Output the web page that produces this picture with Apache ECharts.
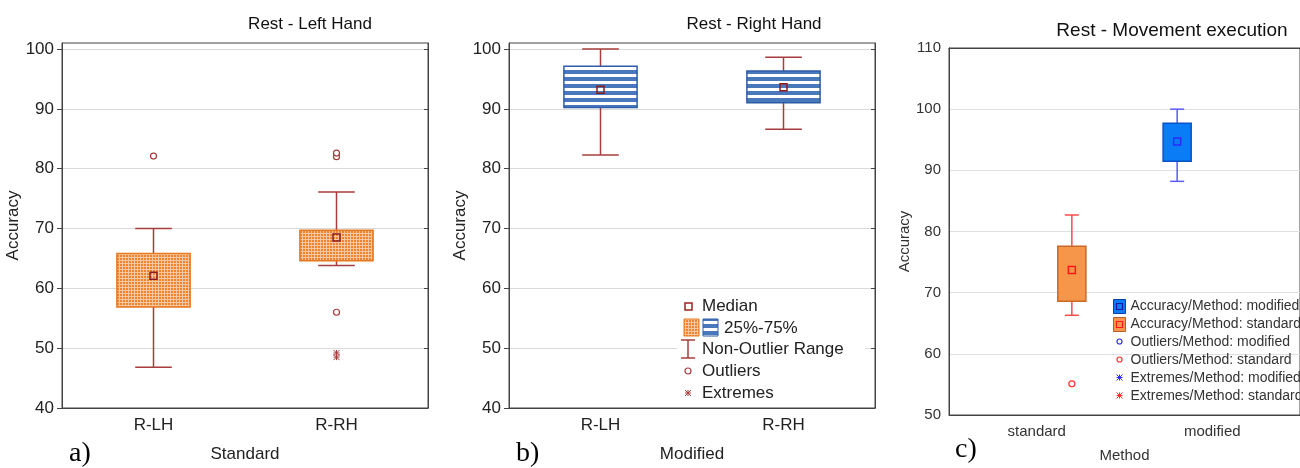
<!DOCTYPE html>
<html>
<head>
<meta charset="utf-8">
<script src="https://cdn.jsdelivr.net/npm/echarts@6/dist/echarts.min.js"></script>
<style>
html, body { margin: 0; padding: 0; background: #fff; }
#chart { width: 1300px; height: 468px; }
</style>
</head>
<body>
<div id="chart"></div>
<script>
// categories and ticks
var handCats = ['R-LH', 'R-RH'];
var methodCats = ['standard', 'modified'];
var handTicks = [40, 50, 60, 70, 80, 90, 100];
var methodTicks = [50, 60, 70, 80, 90, 100, 110];

// boxes: [category index, low whisker, q1, median, q3, high whisker]
var leftBoxes = [[0, 46.8, 56.9, 62.1, 65.8, 70.0], [1, 63.8, 64.6, 68.5, 69.7, 76.1]];
var leftOutliers = [[0, 82.1], [1, 82.0], [1, 82.6], [1, 56.0]];
var leftExtremes = [[1, 48.5], [1, 49.2]];

var rightBoxes = [[0, 82.3, 90.2, 93.2, 97.1, 100.0], [1, 86.6, 91.0, 93.6, 96.3, 98.6]];

var standardBox = [[0, 66.3, 68.6, 73.7, 77.6, 82.7]];
var modifiedBox = [[1, 88.2, 91.5, 94.7, 97.7, 100.0]];
var standardOutliers = [[0, 55.1]];

var sans = '"Liberation Sans", Arial, sans-serif';
var narrow = '"Liberation Sans Narrow", "Liberation Sans", Arial, sans-serif';
var serif = '"Liberation Serif", "Times New Roman", serif';

function gridPattern() {
  var c = document.createElement('canvas');
  c.width = 3; c.height = 3;
  var g = c.getContext('2d');
  g.fillStyle = '#ef8430';
  g.fillRect(0, 0, 3, 3);
  g.fillStyle = 'rgba(255,255,255,0.55)';
  g.fillRect(2, 0, 1, 3);
  g.fillRect(0, 2, 2, 1);
  return c;
}
function stripePattern() {
  var c = document.createElement('canvas');
  c.width = 4; c.height = 7;
  var g = c.getContext('2d');
  g.fillStyle = '#ffffff';
  g.fillRect(0, 0, 4, 7);
  g.fillStyle = '#4a78bd';
  g.fillRect(0, 0, 4, 4);
  return c;
}
var orangeFill = { image: gridPattern(), repeat: 'repeat' };
var blueFill = { image: stripePattern(), repeat: 'repeat' };

// box + whisker drawn from the axis scales
function boxRender(o) {
  return function (params, api) {
    var band = api.size([1, 0])[0];
    var c = api.value(0);
    var lo = api.coord([c, api.value(1)]);
    var q1 = api.coord([c, api.value(2)]);
    var md = api.coord([c, api.value(3)]);
    var q3 = api.coord([c, api.value(4)]);
    var hi = api.coord([c, api.value(5)]);
    var x = md[0] + band * o.offset;
    var bw = band * o.box, cw = band * o.cap, s = o.med;
    var wl = { stroke: o.whisker, lineWidth: 1.5 };
    return {
      type: 'group',
      children: [
        { type: 'line', shape: { x1: x, y1: hi[1], x2: x, y2: lo[1] }, style: wl },
        { type: 'line', shape: { x1: x - cw / 2, y1: hi[1], x2: x + cw / 2, y2: hi[1] }, style: wl },
        { type: 'line', shape: { x1: x - cw / 2, y1: lo[1], x2: x + cw / 2, y2: lo[1] }, style: wl },
        { type: 'rect', shape: { x: x - bw / 2, y: q3[1], width: bw, height: q1[1] - q3[1] },
          style: { fill: o.fill, stroke: o.border, lineWidth: 1.5 } },
        { type: 'rect', shape: { x: x - s / 2, y: md[1] - s / 2, width: s, height: s },
          style: { fill: 'none', stroke: o.medColor, lineWidth: 1.5 } }
      ]
    };
  };
}

function circleRender(o) {
  return function (params, api) {
    var band = api.size([1, 0])[0];
    var p = api.coord([api.value(0), api.value(1)]);
    return { type: 'circle', shape: { cx: p[0] + band * o.offset, cy: p[1], r: 3 },
      style: { fill: '#fff', stroke: o.color, lineWidth: 1.2 } };
  };
}

function starRender(o) {
  return function (params, api) {
    var band = api.size([1, 0])[0];
    var p = api.coord([api.value(0), api.value(1)]);
    return starIcon(p[0] + band * o.offset, p[1], o.color);
  };
}

function starIcon(cx, cy, color) {
  var r = 3, st = { stroke: color, lineWidth: 1 };
  return { type: 'group', children: [
    { type: 'line', shape: { x1: cx - r, y1: cy, x2: cx + r, y2: cy }, style: st },
    { type: 'line', shape: { x1: cx, y1: cy - r, x2: cx, y2: cy + r }, style: st },
    { type: 'line', shape: { x1: cx - r, y1: cy - r, x2: cx + r, y2: cy + r }, style: st },
    { type: 'line', shape: { x1: cx + r, y1: cy - r, x2: cx - r, y2: cy + r }, style: st }
  ] };
}

// lift legend pieces above the grid lines
function lift(list) {
  list.forEach(function (el) {
    el.z = 100;
    if (el.children) lift(el.children);
  });
  return list;
}

var dark = '#a83c3c';
var boxEnc = { x: 0, y: [1, 2, 3, 4, 5] };
var ptEnc = { x: 0, y: 1 };

var handY = function (gi) {
  return {
    type: 'value', gridIndex: gi, min: 40, max: 101, interval: 10,
    name: 'Accuracy', nameLocation: 'middle', nameGap: gi === 0 ? 36 : 32,
    nameTextStyle: { fontFamily: sans, fontSize: 17, color: '#222' },
    axisLine: { show: true, lineStyle: { color: '#444' } },
    axisTick: { show: true, length: 5, lineStyle: { color: '#444' }, customValues: handTicks },
    axisLabel: { fontFamily: sans, fontSize: 17, color: '#222', margin: 8, customValues: handTicks },
    splitLine: { lineStyle: { color: '#dadada' } }
  };
};
var handYRight = function (gi) {
  return {
    type: 'value', gridIndex: gi, position: 'right', min: 40, max: 101, interval: 10,
    axisLine: { show: true, lineStyle: { color: '#444' } },
    axisTick: { show: true, inside: true, length: 4, lineStyle: { color: '#444' }, customValues: handTicks },
    axisLabel: { show: false }, splitLine: { show: false }
  };
};
var handX = function (gi, name) {
  return {
    type: 'category', gridIndex: gi, data: handCats,
    name: name, nameLocation: 'middle', nameGap: 38,
    nameTextStyle: { fontFamily: sans, fontSize: 17, color: '#222' },
    axisLine: { lineStyle: { color: '#444' } },
    axisTick: { alignWithLabel: true, length: 5, lineStyle: { color: '#444' } },
    axisLabel: { fontFamily: sans, fontSize: 17, color: '#222', margin: 9 }
  };
};

var legendB = lift([
  { type: 'rect', shape: { x: 0, y: 0, width: 188, height: 108 }, style: { fill: '#fff' } },
  { type: 'rect', shape: { x: 8, y: 7, width: 7, height: 7 }, style: { fill: 'none', stroke: '#a02020', lineWidth: 1.5 } },
  { type: 'rect', shape: { x: 7, y: 23, width: 15, height: 17 }, style: { fill: orangeFill, stroke: '#e8781e', lineWidth: 1 } },
  { type: 'rect', shape: { x: 26, y: 23, width: 15, height: 17 }, style: { fill: blueFill, stroke: '#2e5ca6', lineWidth: 1 } },
  { type: 'line', shape: { x1: 11, y1: 44, x2: 11, y2: 62 }, style: { stroke: dark, lineWidth: 1.5 } },
  { type: 'line', shape: { x1: 4, y1: 44, x2: 18, y2: 44 }, style: { stroke: dark, lineWidth: 1.5 } },
  { type: 'line', shape: { x1: 4, y1: 62, x2: 18, y2: 62 }, style: { stroke: dark, lineWidth: 1.5 } },
  { type: 'circle', shape: { cx: 11, cy: 75, r: 3 }, style: { fill: '#fff', stroke: dark, lineWidth: 1.2 } },
  starIcon(11, 97, dark),
  { type: 'text', x: 25, y: 10, style: { text: 'Median', font: '17px ' + sans, fill: '#222', verticalAlign: 'middle' } },
  { type: 'text', x: 47, y: 32, style: { text: '25%-75%', font: '17px ' + sans, fill: '#222', verticalAlign: 'middle' } },
  { type: 'text', x: 25, y: 53, style: { text: 'Non-Outlier Range', font: '17px ' + sans, fill: '#222', verticalAlign: 'middle' } },
  { type: 'text', x: 25, y: 75, style: { text: 'Outliers', font: '17px ' + sans, fill: '#222', verticalAlign: 'middle' } },
  { type: 'text', x: 25, y: 97, style: { text: 'Extremes', font: '17px ' + sans, fill: '#222', verticalAlign: 'middle' } }
]);

var legendC = lift([
  { type: 'rect', shape: { x: 2, y: 1, width: 12, height: 14 }, style: { fill: '#0a7cf5', stroke: '#0a3ea8', lineWidth: 1 } },
  { type: 'rect', shape: { x: 5, y: 5, width: 6, height: 6 }, style: { fill: 'none', stroke: '#1a1aa0', lineWidth: 1.2 } },
  { type: 'rect', shape: { x: 2, y: 19, width: 12, height: 14 }, style: { fill: '#f5964a', stroke: '#b0602a', lineWidth: 1 } },
  { type: 'rect', shape: { x: 5, y: 23, width: 6, height: 6 }, style: { fill: 'none', stroke: '#ff1a1a', lineWidth: 1.2 } },
  { type: 'circle', shape: { cx: 8, cy: 43, r: 2.5 }, style: { fill: '#fff', stroke: '#3030ff', lineWidth: 1.2 } },
  { type: 'circle', shape: { cx: 8, cy: 61, r: 2.5 }, style: { fill: '#fff', stroke: '#ff3030', lineWidth: 1.2 } },
  starIcon(8, 79, '#3030ff'),
  starIcon(8, 97, '#ff3030'),
  { type: 'text', x: 19, y: 8, style: { text: 'Accuracy/Method: modified', font: '14px ' + sans, fill: '#333', verticalAlign: 'middle' } },
  { type: 'text', x: 19, y: 26, style: { text: 'Accuracy/Method: standard', font: '14px ' + sans, fill: '#333', verticalAlign: 'middle' } },
  { type: 'text', x: 19, y: 44, style: { text: 'Outliers/Method: modified', font: '14px ' + sans, fill: '#333', verticalAlign: 'middle' } },
  { type: 'text', x: 19, y: 62, style: { text: 'Outliers/Method: standard', font: '14px ' + sans, fill: '#333', verticalAlign: 'middle' } },
  { type: 'text', x: 19, y: 80, style: { text: 'Extremes/Method: modified', font: '14px ' + sans, fill: '#333', verticalAlign: 'middle' } },
  { type: 'text', x: 19, y: 98, style: { text: 'Extremes/Method: standard', font: '14px ' + sans, fill: '#333', verticalAlign: 'middle' } }
]);

var option = {
  animation: false,
  backgroundColor: '#fff',
  title: [
    { text: 'Rest - Left Hand', left: 305, top: 11, textAlign: 'center',
      textStyle: { fontFamily: sans, fontSize: 17, fontWeight: 'normal', color: '#111' } },
    { text: 'Rest - Right Hand', left: 749, top: 11, textAlign: 'center',
      textStyle: { fontFamily: sans, fontSize: 17, fontWeight: 'normal', color: '#111' } },
    { text: 'Rest - Movement execution', left: 1167, top: 16, textAlign: 'center',
      textStyle: { fontFamily: sans, fontSize: 19, fontWeight: 'normal', color: '#111' } }
  ],
  grid: [
    { left: 62, top: 43, width: 366, height: 370, show: true, borderColor: '#444', borderWidth: 1 },
    { left: 509, top: 43, width: 366, height: 370, show: true, borderColor: '#444', borderWidth: 1 },
    { left: 949, top: 48, width: 360, height: 367, show: true, borderColor: '#444', borderWidth: 1 }
  ],
  xAxis: [
    handX(0, 'Standard'),
    handX(1, 'Modified'),
    {
      type: 'category', gridIndex: 2, data: methodCats,
      name: 'Method', nameLocation: 'middle', nameGap: 33,
      nameTextStyle: { fontFamily: narrow, fontSize: 15, color: '#333' },
      axisLine: { lineStyle: { color: '#444' } },
      axisTick: { alignWithLabel: true, length: 4, lineStyle: { color: '#444' } },
      axisLabel: { fontFamily: narrow, fontSize: 15, color: '#333', margin: 9 }
    },
    {
      type: 'category', gridIndex: 2, data: methodCats, position: 'top',
      axisLine: { lineStyle: { color: '#444' } },
      axisTick: { alignWithLabel: true, inside: true, length: 4, lineStyle: { color: '#444' } },
      axisLabel: { show: false }
    }
  ],
  yAxis: [
    handY(0),
    handY(1),
    {
      type: 'value', gridIndex: 2, min: 50, max: 110, interval: 10,
      name: 'Accuracy', nameLocation: 'middle', nameGap: 37,
      nameTextStyle: { fontFamily: narrow, fontSize: 15, color: '#333', padding: [0, 20, 0, 0] },
      axisLine: { show: true, lineStyle: { color: '#444' } },
      axisTick: { show: false },
      axisLabel: { fontFamily: narrow, fontSize: 15, color: '#333', margin: 8, customValues: methodTicks },
      splitLine: { lineStyle: { color: '#e0e0e0' } }
    },
    handYRight(0),
    handYRight(1)
  ],
  series: [
    { type: 'custom', name: 'Standard', xAxisIndex: 0, yAxisIndex: 0, data: leftBoxes, encode: boxEnc,
      renderItem: boxRender({ offset: 0, box: 0.4, cap: 0.2, med: 7, fill: orangeFill, border: '#e8781e',
        whisker: dark, medColor: '#8e1b1b' }) },
    { type: 'custom', name: 'Standard outliers', xAxisIndex: 0, yAxisIndex: 0, data: leftOutliers, encode: ptEnc,
      renderItem: circleRender({ offset: 0, color: dark }) },
    { type: 'custom', name: 'Standard extremes', xAxisIndex: 0, yAxisIndex: 0, data: leftExtremes, encode: ptEnc,
      renderItem: starRender({ offset: 0, color: dark }) },
    { type: 'custom', name: 'Modified', xAxisIndex: 1, yAxisIndex: 1, data: rightBoxes, encode: boxEnc,
      renderItem: boxRender({ offset: 0, box: 0.4, cap: 0.2, med: 7, fill: blueFill, border: '#2e5ca6',
        whisker: dark, medColor: '#8e1b1b' }) },
    { type: 'custom', name: 'Accuracy/Method: standard', xAxisIndex: 2, yAxisIndex: 2, data: standardBox, encode: boxEnc,
      renderItem: boxRender({ offset: 0.2, box: 0.16, cap: 0.08, med: 7, fill: '#f5964a', border: '#c8692a',
        whisker: '#ff4a4a', medColor: '#ff1a1a' }) },
    { type: 'custom', name: 'Accuracy/Method: modified', xAxisIndex: 2, yAxisIndex: 2, data: modifiedBox, encode: boxEnc,
      renderItem: boxRender({ offset: -0.2, box: 0.16, cap: 0.08, med: 7, fill: '#0a7cf5', border: '#0a52c8',
        whisker: '#5a5aff', medColor: '#2a2aff' }) },
    { type: 'custom', name: 'Outliers/Method: standard', xAxisIndex: 2, yAxisIndex: 2, data: standardOutliers, encode: ptEnc,
      renderItem: circleRender({ offset: 0.2, color: '#ff3030' }) }
  ],
  graphic: [
    { type: 'group', left: 677, top: 296, z: 100, children: legendB },
    { type: 'group', left: 1113, top: 299, z: 100, children: legendC },
    // panel letters
    { type: 'text', left: 69, top: 440, z: 100, style: { text: 'a)', font: '28px ' + serif, fill: '#000' } },
    { type: 'text', left: 516, top: 440, z: 100, style: { text: 'b)', font: '28px ' + serif, fill: '#000' } },
    { type: 'text', left: 955, top: 436, z: 100, style: { text: 'c)', font: '28px ' + serif, fill: '#000' } }
  ]
};

var myChart = echarts.init(document.getElementById('chart'));
myChart.setOption(option);
</script>
</body>
</html>
